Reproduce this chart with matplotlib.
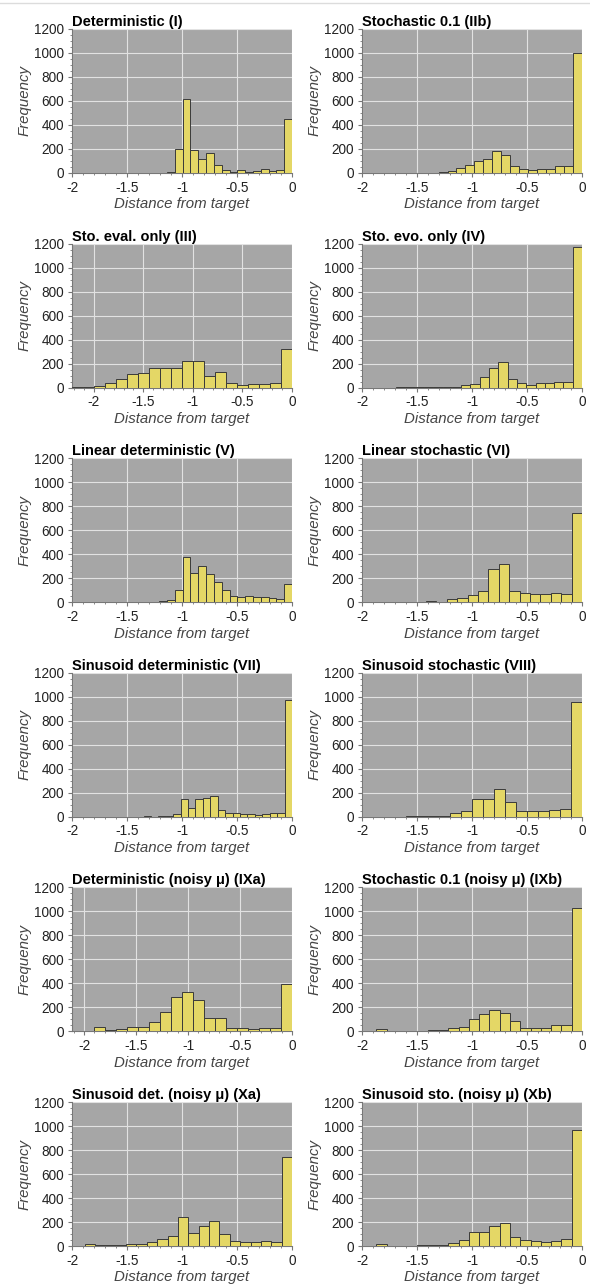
import numpy as np
import matplotlib
matplotlib.use("Agg")
import matplotlib.pyplot as plt
from matplotlib.ticker import MultipleLocator
from matplotlib.lines import Line2D

plt.rcParams['font.family'] = ['Liberation Sans', 'DejaVu Sans']
plt.rcParams['axes.unicode_minus'] = False

# panel titles, left edge of first bin (20 bins up to 0), and counts per bin
titles = [
    "Deterministic (I)", "Stochastic 0.1 (IIb)",
    "Sto. eval. only (III)", "Sto. evo. only (IV)",
    "Linear deterministic (V)", "Linear stochastic (VI)",
    "Sinusoid deterministic (VII)", "Sinusoid stochastic (VIII)",
    "Deterministic (noisy μ) (IXa)", "Stochastic 0.1 (noisy μ) (IXb)",
    "Sinusoid det. (noisy μ) (Xa)", "Sinusoid sto. (noisy μ) (Xb)",
]
bin_lo = [-1.42, -1.63, -2.22, -1.69, -1.42, -1.89,
          -1.35, -2.0, -2.115, -1.87, -1.885, -1.87]
counts = [
    [0, 0, 1, 3, 8, 200, 620, 190, 120, 165, 70, 25, 10, 25, 10, 15, 30, 20, 25, 450],
    [1, 2, 3, 4, 8, 18, 45, 65, 100, 120, 185, 148, 60, 35, 28, 35, 35, 55, 60, 1000],
    [3, 8, 15, 40, 75, 110, 125, 160, 160, 160, 225, 225, 95, 130, 35, 25, 28, 28, 35, 325],
    [2, 1, 1, 2, 3, 4, 8, 20, 28, 85, 160, 210, 75, 35, 25, 35, 35, 50, 50, 1175],
    [1, 2, 3, 8, 15, 105, 380, 245, 300, 235, 165, 100, 55, 45, 55, 45, 45, 35, 30, 150],
    [1, 2, 2, 1, 2, 8, 5, 25, 35, 60, 90, 275, 320, 95, 75, 65, 65, 75, 70, 740],
    [3, 0, 3, 8, 25, 150, 75, 150, 160, 170, 60, 30, 30, 25, 25, 15, 25, 30, 30, 975],
    [1, 0, 0, 0, 3, 3, 3, 8, 35, 45, 150, 150, 235, 120, 50, 50, 50, 60, 65, 955],
    [5, 0, 35, 10, 18, 35, 40, 75, 165, 290, 330, 265, 110, 110, 30, 30, 20, 25, 30, 395],
    [20, 3, 3, 5, 5, 15, 10, 25, 40, 105, 145, 180, 150, 85, 25, 30, 30, 55, 50, 1025],
    [20, 10, 5, 10, 15, 20, 35, 55, 85, 245, 110, 165, 210, 100, 40, 30, 35, 40, 35, 745],
    [20, 2, 3, 3, 10, 10, 10, 25, 50, 120, 120, 170, 195, 75, 50, 45, 35, 45, 55, 965],
]
xticks = [-2, -1.5, -1, -0.5, 0]
xtick_labels = ["-2", "-1.5", "-1", "-0.5", "0"]
yticks = [0, 200, 400, 600, 800, 1000, 1200]

W, H = 590, 1287
fig = plt.figure(figsize=(W / 100, H / 100), dpi=100)
fig.add_artist(Line2D([0, 1], [1 - 3 / H] * 2, color='#dcdcdc', lw=1))

col_left = [72, 362]
ax_w, ax_h = 220, 144

for i, (title, lo, cnt) in enumerate(zip(titles, bin_lo, counts)):
    r, c = divmod(i, 2)
    top = 29 + 214.6 * r
    ax = fig.add_axes([col_left[c] / W, 1 - (top + ax_h) / H, ax_w / W, ax_h / H])
    ax.set_facecolor('#a6a6a6')
    edges = np.linspace(lo, 0, len(cnt) + 1)
    ax.hist(edges[:-1], bins=edges, weights=cnt, color='#e4d766',
            edgecolor='#3a3a3a', linewidth=0.7, zorder=3)
    ax.set_xlim(min(-2, lo), 0)
    ax.set_ylim(0, 1200)
    ax.set_xticks(xticks)
    ax.set_xticklabels(xtick_labels)
    ax.set_yticks(yticks)
    ax.xaxis.set_minor_locator(MultipleLocator(0.1))
    ax.yaxis.set_minor_locator(MultipleLocator(50))
    ax.grid(True, which='major', color='#e2e2e2', lw=0.8, zorder=1)
    ax.set_axisbelow(True)
    for s in ['top', 'right']:
        ax.spines[s].set_visible(False)
    for s in ['left', 'bottom']:
        ax.spines[s].set_color('#777777')
        ax.spines[s].set_linewidth(0.8)
    ax.tick_params(which='major', length=3, width=0.8, color='#777777',
                   labelsize=9.8, labelcolor='#222222', pad=2.5)
    ax.tick_params(which='minor', length=1.5, width=0.6, color='#777777')
    ax.set_title(title, loc='left', fontweight='bold', fontsize=10.5, pad=2)
    ax.set_ylabel("Frequency", fontstyle='italic', fontsize=10.8, color='#444444', labelpad=2)
    ax.set_xlabel("Distance from target", fontstyle='italic', fontsize=10.8,
                  color='#444444', labelpad=2)

fig.savefig("out.png", dpi=100)
